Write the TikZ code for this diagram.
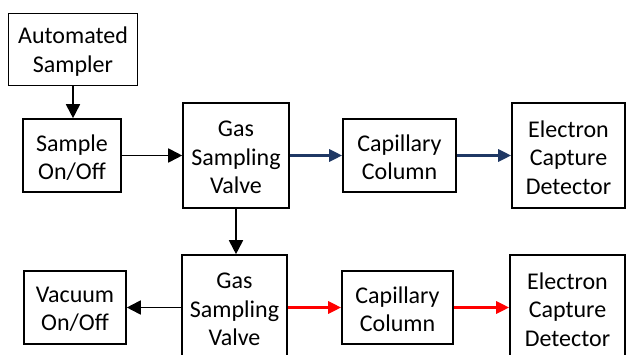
\documentclass[tikz,border=0pt]{standalone}
\usepackage{fontspec}
\setmainfont{Carlito}
\usetikzlibrary{arrows.meta}
\definecolor{flownavy}{HTML}{1F3864}
\definecolor{flowred}{HTML}{FF0000}
\tikzset{
  blk/.style={draw=black, line width=1.6pt, fill=white, inner sep=0pt},
  % box captions sit a little below the box centre
  tag/.style={inner sep=0pt, align=center, yshift=-2pt,
    font=\fontsize{24}{28.3}\selectfont},
  link/.style={line width=1.8pt, -{Triangle[length=14pt,width=14pt]}},
  navylink/.style={draw=flownavy, line width=3pt,
    -{Triangle[length=13pt,width=12pt]}},
  redlink/.style={draw=flowred, line width=3pt,
    -{Triangle[length=13pt,width=12pt]}}
}
\begin{document}
\begin{tikzpicture}[x=1pt,y=-1pt]
  \useasboundingbox (0,0) rectangle (626,355);
  \clip (0,0) rectangle (626,355);
  % upper chain
  \node[blk, minimum width=129pt, minimum height=72pt,
    label={[tag]center:{Automated\\Sampler}}] (auto) at (73,49.5) {};
  \node[blk, minimum width=98pt, minimum height=73pt,
    label={[tag]center:{Sample\\On/Off}}] (sample) at (72,155.5) {};
  \node[blk, minimum width=106pt, minimum height=105pt,
    label={[tag]center:{Gas\\Sampling\\Valve}}] (gsvA) at (236,155.5) {};
  \node[blk, minimum width=113pt, minimum height=73pt,
    label={[tag]center:{Capillary\\Column}}] (capA) at (399.5,155.5) {};
  \node[blk, minimum width=113pt, minimum height=105pt,
    label={[tag]center:{Electron\\Capture\\Detector}}] (ecdA) at (568.5,155.5) {};
  % lower chain
  \node[blk, minimum width=105pt, minimum height=105pt,
    label={[tag]center:{Gas\\Sampling\\Valve}}] (gsvB) at (234.5,307.5) {};
  \node[blk, minimum width=102pt, minimum height=73pt,
    label={[tag]center:{Vacuum\\On/Off}}] (vac) at (75,307.5) {};
  \node[blk, minimum width=111pt, minimum height=73pt,
    label={[tag]center:{Capillary\\Column}}] (capB) at (397.5,307.5) {};
  \node[blk, minimum width=115pt, minimum height=105pt,
    label={[tag]center:{Electron\\Capture\\Detector}}] (ecdB) at (567.5,307.5) {};
  % connectors
  \draw[link] (auto.south) -- (auto.south |- sample.north);
  \draw[link] (sample.east) -- (sample.east -| gsvA.west);
  \draw[navylink] (gsvA.east) -- (gsvA.east -| capA.west);
  \draw[navylink] (capA.east) -- (capA.east -| ecdA.west);
  \draw[link] (gsvA.south) -- (gsvA.south |- gsvB.north);
  \draw[link] (gsvB.west) -- (gsvB.west -| vac.east);
  \draw[redlink] (gsvB.east) -- (gsvB.east -| capB.west);
  \draw[redlink] (capB.east) -- (capB.east -| ecdB.west);
\end{tikzpicture}
\end{document}
